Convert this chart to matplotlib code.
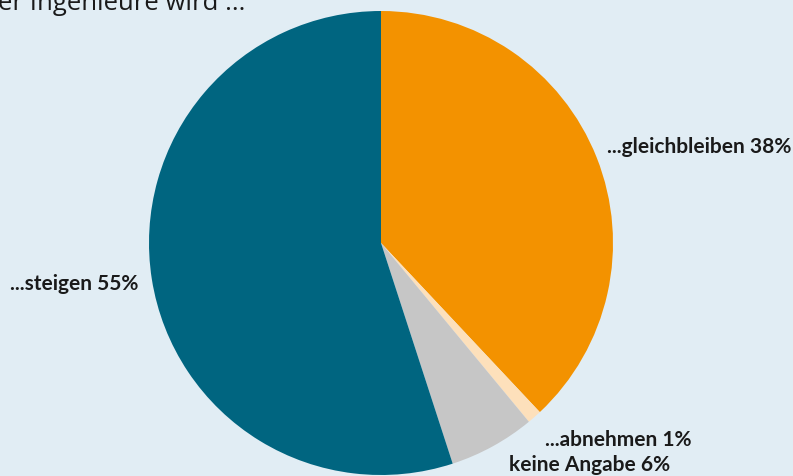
import matplotlib.pyplot as plt

labels = ['...gleichbleiben 38%', '...abnehmen 1%', 'keine Angabe 6%', '...steigen 55%']
values = [38, 1, 6, 55]
colors = ['#f39200', '#fde0bb', '#c6c6c6', '#006580']

bg = '#e1edf4'
fig = plt.figure(figsize=(7.93, 4.76), dpi=100, facecolor=bg)
W, H = 793, 476

# pie centre ~ (381, 243) px, radius ~232 px
cx, cy, r = 381, 243, 232
ax = fig.add_axes([(cx - r) / W, (H - cy - r) / H, 2 * r / W, 2 * r / H])
ax.set_facecolor(bg)
ax.pie(values, colors=colors, startangle=90, counterclock=False, radius=1,
       wedgeprops=dict(linewidth=0))
ax.set_xlim(-1, 1)
ax.set_ylim(-1, 1)
ax.set_aspect('equal')
ax.axis('off')

font = dict(family=['Lato', 'DejaVu Sans'], fontweight='bold', fontsize=15, color='#1a1a1a')
# label anchors in pixels (left x, centre y)
pos = [(607, 147), (545, 440), (509, 465), (10, 284)]
for lab, (x, y) in zip(labels, pos):
    fig.text(x / W, 1 - y / H, lab, ha='left', va='center', **font)

fig.text(-2 / W, 1 - 10 / H, 'er Ingenieure wird ...', ha='left', va='baseline',
         family=['Open Sans', 'DejaVu Sans'], fontsize=18.5, color='#1a1a1a')

plt.savefig('out.png', dpi=100, facecolor=bg)
